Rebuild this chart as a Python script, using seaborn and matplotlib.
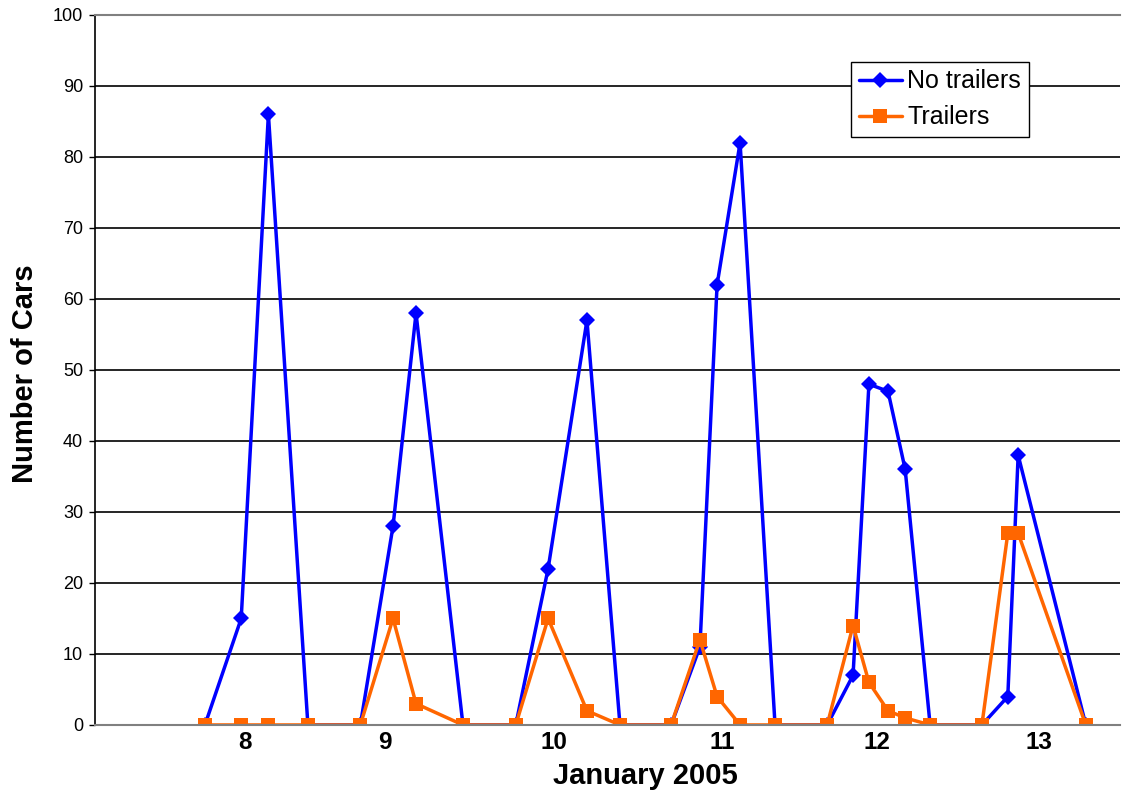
#!/usr/bin/env python3
"""Cars with / without trailers, 8-13 January 2005"""
import pandas as pd, numpy as np
import matplotlib; matplotlib.use('Agg'); import matplotlib.pyplot as plt
import seaborn as sns

days = [8]*4 + [9]*4 + [10]*4 + [11]*5 + [12]*6 + [13]*4
hours = [5.7, 11.3, 15.5, 21.6,
         5.7, 10.75, 14.3, 21.55,
         5.7, 10.7, 16.7, 21.8,
         5.7, 10.15, 12.8, 16.35, 21.75,
         5.8, 9.8, 12.25, 15.2, 17.85, 21.7,
         5.7, 9.7, 11.3, 21.75]
no_trailers = [0, 15, 86, 0,
               0, 28, 58, 0,
               0, 22, 57, 0,
               0, 11, 62, 82, 0,
               0, 7, 48, 47, 36, 0,
               0, 4, 38, 0]
trailers = [0, 0, 0, 0,
            0, 15, 3, 0,
            0, 15, 2, 0,
            0, 12, 4, 0, 0,
            0, 14, 6, 2, 1, 0,
            0, 27, 27, 0]
day_labels = ['8', '9', '10', '11', '12', '13']
day_label_pos = [8.495, 9.396, 10.484, 11.565, 12.562, 13.605]

t = np.array(days) + np.array(hours)/24
df = pd.concat([
    pd.DataFrame({'time': t, 'cars': no_trailers, 'series': 'No trailers'}),
    pd.DataFrame({'time': t, 'cars': trailers, 'series': 'Trailers'}),
])

sns.set_style('white')
plt.rcParams['font.family'] = ['Liberation Sans', 'DejaVu Sans']
for k in ['text.color', 'axes.labelcolor', 'xtick.color', 'ytick.color']:
    plt.rcParams[k] = 'black'

fig = plt.figure(figsize=(11.23, 7.93), dpi=100)
ax = fig.add_axes([0.0846, 0.0858, 0.9127, 0.8953])
sns.lineplot(data=df, x='time', y='cars', hue='series', style='series',
             hue_order=['No trailers', 'Trailers'],
             palette={'No trailers': '#0000FF', 'Trailers': '#FF6600'},
             markers={'No trailers': 'D', 'Trailers': 's'}, dashes=False,
             linewidth=2.5, markersize=8.5, markeredgewidth=0, sort=False, ax=ax)
for ln in ax.lines:
    if ln.get_marker() == 's':
        ln.set_markersize(10.5)

ax.set_xlim(7.53, 14.126)
ax.set_ylim(0, 100)
ax.set_yticks(range(0, 101, 10))
ax.yaxis.grid(True, color='black', linewidth=1.2)
ax.set_axisbelow(True)
ax.set_xticks(day_label_pos)
ax.set_xticklabels(day_labels, fontsize=17.5, fontweight='bold')
ax.tick_params(axis='x', length=0, pad=4)
ax.tick_params(axis='y', length=4.5, width=1, color='black', labelsize=13, pad=4, left=True)
ax.set_xlabel('January 2005', fontsize=21, fontweight='bold')
ax.xaxis.set_label_coords(0.5366, -0.052)
ax.set_ylabel('Number of Cars', fontsize=21, fontweight='bold')
ax.yaxis.set_label_coords(-0.055, 0.495)
for s in ['top', 'bottom']:
    ax.spines[s].set_color('#808080'); ax.spines[s].set_linewidth(1.5)
ax.spines['left'].set_color('black'); ax.spines['left'].set_linewidth(1.2)
ax.spines['right'].set_visible(False)

leg = ax.legend(loc='upper left', bbox_to_anchor=(0.7376, 0.934), fontsize=18,
                frameon=True, fancybox=False, edgecolor='black', framealpha=1,
                borderpad=0.3, labelspacing=0.48, handlelength=1.75, handletextpad=0.2,
                borderaxespad=0)
leg.get_frame().set_linewidth(1.0)

fig.savefig('out.png', dpi=100)
print("OK")
